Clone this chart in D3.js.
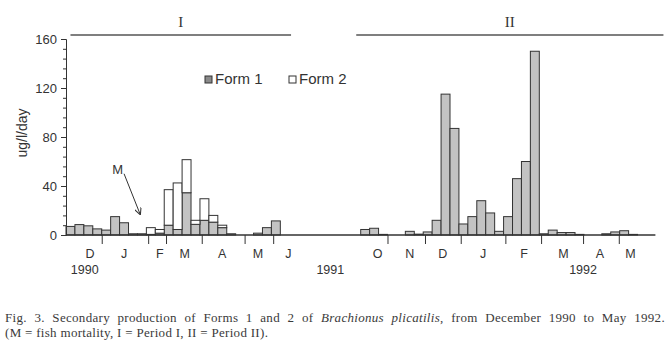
<!DOCTYPE html>
<html>
<head>
<meta charset="utf-8">
<script src="https://cdn.jsdelivr.net/npm/d3@7"></script>
<style>
  body{margin:0;background:#fff;}
  svg text{font-family:"Liberation Sans",Arial,sans-serif;fill:#333;}
  .cap text{font-family:"Liberation Serif","Times New Roman",serif;fill:#3a3a3a;letter-spacing:0.3px;}
</style>
</head>
<body>
<svg id="chart" width="672" height="344"></svg>
<script>
// weekly samples, as slot index along the time axis
var slots = [0,1,2,3,4,5,6,7,8,9,10,11,12,13,14,15,16,17,18,19,20,21,22,23,
             33,34,35,38,39,40,41,42,43,44,45,46,47,48,49,50,51,52,53,54,55,56,57,58,59,60,61,62,63];
var form1 = [7,8.5,7.5,5,4,15,10,1,1,0.5,1.5,8,4.5,34.5,8.7,12,10.5,6,1,0,0,1.5,6,11.5,
             4.5,5.5,0.5,3,0.7,2.5,12,115,87,9,15,28,18,3,15,46,60,150,1,4,2,2,0.5,0,0,1,2.5,3.5,0.5];
var form2 = [0,0,0,0,0,0,0,0,0,5.5,3,29,38,27,3.3,17.6,5.5,2,0,0,0,0,0,0,
             0,0,0,0,0,0,0,0,0,0,0,0,0,0,0,0,0,0,0,0,0,0,0,0,0,0,0,0,0];

// month boundaries and labels (slot units)
var monthTicks = [4,9.2,11.2,15.2,20,23.2,36,40.2,44.2,49.2,53.2,57.9,61.9];
var monthNames = ['D','J','F','M','A','M','J','O','N','D','J','F','M','A','M'];
var monthPos   = [2.7,6.5,10.5,13.3,17.5,21.5,24.9,34.9,38.5,42.2,46.7,51.3,55.7,59.8,63.2];
var years      = ['1990','1991','1992'];
var yearPos    = [2.1,29.6,57.9];
var periods    = [{label:'I',from:0.5,to:25.2},{label:'II',from:32.5,to:66.9}];
var yTicks     = [0,40,80,120,160];

var svg = d3.select('#chart');
var x = d3.scaleLinear().domain([0,66]).range([66,655.4]);
var y = d3.scaleLinear().domain([0,160]).range([235,39]);

var rows = slots.map(function(s,i){ return {slot:s,f1:form1[i],f2:form2[i]}; });
var stack = d3.stack().keys(['f1','f2'])(rows);
var fills = {f1:'#c3c3c3', f2:'#ffffff'};

// bars
stack.forEach(function(layer){
  svg.append('g').selectAll('rect')
    .data(layer.filter(function(d){ return d[1]-d[0]>0; }))
    .join('rect')
    .attr('x',function(d){ return x(d.data.slot); })
    .attr('width',function(d){ return x(d.data.slot+1)-x(d.data.slot); })
    .attr('y',function(d){ return y(d[1]); })
    .attr('height',function(d){ return y(d[0])-y(d[1]); })
    .attr('fill',fills[layer.key])
    .attr('stroke','#333')
    .attr('stroke-width',1);
});

// baseline
svg.append('line')
  .attr('x1',x(0)).attr('x2',x(66))
  .attr('y1',y(0)).attr('y2',y(0))
  .attr('stroke','#333').attr('stroke-width',1.5);

// y axis
var yAxis = svg.append('g').attr('transform','translate('+x(0)+',0)')
  .call(d3.axisLeft(y).tickValues(yTicks).tickSize(5).tickPadding(4));
yAxis.selectAll('text').attr('font-size',13).style('fill','#333');
yAxis.selectAll('line,path').attr('stroke','#333');
var minor = svg.append('g').attr('transform','translate('+x(0)+',0)')
  .call(d3.axisLeft(y).tickValues(d3.range(0,161,8)).tickSize(3).tickFormat(''));
minor.select('path').remove();
minor.selectAll('line').attr('stroke','#333');

svg.append('text')
  .attr('transform','translate(27,133) rotate(-90)')
  .attr('text-anchor','middle')
  .attr('font-size',14)
  .text('ug/l/day');

// month ticks + labels
var xAxis = svg.append('g').attr('transform','translate(0,'+y(0)+')')
  .call(d3.axisBottom(x).tickValues(monthTicks).tickSize(9).tickFormat(''));
xAxis.select('path').remove();
xAxis.selectAll('line').attr('stroke','#333');

svg.append('g').selectAll('text').data(monthNames).join('text')
  .attr('x',function(d,i){ return x(monthPos[i]); })
  .attr('y',258).attr('text-anchor','middle').attr('font-size',12.5)
  .text(function(d){ return d; });
svg.append('g').selectAll('text').data(years).join('text')
  .attr('x',function(d,i){ return x(yearPos[i]); })
  .attr('y',274).attr('text-anchor','middle').attr('font-size',12.5)
  .text(function(d){ return d; });

// periods
var pg = svg.append('g').selectAll('g').data(periods).join('g');
pg.append('line')
  .attr('x1',function(d){ return x(d.from); }).attr('x2',function(d){ return x(d.to); })
  .attr('y1',35).attr('y2',35).attr('stroke','#555').attr('stroke-width',1.5);
pg.append('text')
  .attr('x',function(d){ return x((d.from+d.to)/2); }).attr('y',27)
  .attr('text-anchor','middle').attr('font-size',15)
  .style('font-family','"Liberation Serif",serif')
  .text(function(d){ return d.label; });

// legend
var legend = [{name:'Form 1',fill:'#8a8a8a',x:205},{name:'Form 2',fill:'#fff',x:289}];
var lg = svg.append('g').selectAll('g').data(legend).join('g');
lg.append('rect').attr('x',function(d){ return d.x; }).attr('y',76)
  .attr('width',7).attr('height',7).attr('fill',function(d){ return d.fill; })
  .attr('stroke','#333').attr('stroke-width',1);
lg.append('text').attr('x',function(d){ return d.x+10; }).attr('y',84)
  .attr('font-size',15).text(function(d){ return d.name; });

// fish mortality arrow
svg.append('defs').append('marker').attr('id','ah')
  .attr('viewBox','0 0 10 10').attr('refX',9).attr('refY',5)
  .attr('markerWidth',7).attr('markerHeight',7).attr('orient','auto')
  .append('path').attr('d','M0,0 L10,5 L0,10').attr('fill','none').attr('stroke','#333').attr('stroke-width',1.5);
svg.append('line')
  .attr('x1',x(6.5)).attr('y1',y(50)).attr('x2',x(8.3)).attr('y2',y(17))
  .attr('stroke','#333').attr('stroke-width',1).attr('marker-end','url(#ah)');
svg.append('text').attr('x',x(5.8)).attr('y',y(54)+5)
  .attr('text-anchor','middle').attr('font-size',13).text('M');

// caption, first line justified with word spacing
var cap = svg.append('g').attr('class','cap');
var l1 = cap.append('text').attr('x',5).attr('y',322).attr('font-size',13);
l1.append('tspan').text('Fig. 3. Secondary production of Forms 1 and 2 of ');
l1.append('tspan').attr('font-style','italic').text('Brachionus plicatilis');
l1.append('tspan').text(', from December 1990 to May 1992.');
var natural = l1.node().getComputedTextLength();
l1.attr('word-spacing',Math.max(0,(660-natural)/17).toFixed(2)+'px');
cap.append('text').attr('x',5).attr('y',337).attr('font-size',13)
  .text('(M = fish mortality, I = Period I, II = Period II).');
</script>
</body>
</html>
